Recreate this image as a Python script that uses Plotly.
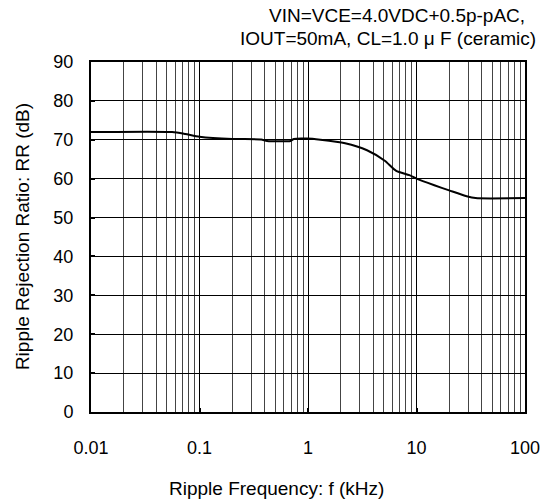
import plotly.graph_objects as go

freq_khz = [0.01, 0.056, 0.074, 0.1, 0.2, 0.37, 0.42, 0.69, 0.74, 0.98, 1.3, 2.2, 3.5, 5.1, 6.5, 8.6, 10, 14.6, 20, 29, 35, 100]
rr_db = [72, 72, 71.5, 70.8, 70.2, 70.1, 69.7, 69.7, 70.2, 70.3, 70.0, 69.1, 67.3, 64.6, 62.0, 60.9, 60.0, 58.3, 57.0, 55.5, 55.0, 55.0]

x_tickvals = [0.01, 0.1, 1, 10, 100]
x_ticktext = ["0.01", "0.1", "1", "10", "100"]
y_tickvals = [0, 10, 20, 30, 40, 50, 60, 70, 80, 90]

title_lines = ["VIN=VCE=4.0VDC+0.5p-pAC,", "IOUT=50mA, CL=1.0 μ F (ceramic)"]
x_title = "Ripple Frequency: f (kHz)"
y_title = "Ripple Rejection Ratio: RR (dB)"

FONT = "Liberation Sans, Arial, sans-serif"
W, H = 552, 504
# plot area in page pixels: x 91..532, y 62..412
L, T = 91, 62
R, B = W - 532, H - 412
PW, PH = W - L - R, H - T - B


def px_x(x):
    return (x - L) / PW


def px_y(y):
    return (H - B - y) / PH


fig = go.Figure()
fig.add_trace(go.Scatter(x=freq_khz, y=rr_db, mode="lines",
                         line=dict(color="black", width=2, shape="spline", smoothing=0.6),
                         showlegend=False, hoverinfo="skip"))

ann_font = dict(family=FONT, size=19, color="black")
fig.update_layout(
    width=W, height=H,
    margin=dict(l=L, r=R, t=T, b=B),
    paper_bgcolor="white", plot_bgcolor="white",
    font=dict(family=FONT, color="black", size=18),
    annotations=[
        dict(text=title_lines[0], xref="paper", yref="paper",
             x=px_x(534), y=px_y(16), xanchor="right", yanchor="middle",
             showarrow=False, font=ann_font),
        dict(text=title_lines[1], xref="paper", yref="paper",
             x=px_x(545), y=px_y(38), xanchor="right", yanchor="middle",
             showarrow=False, font=ann_font),
        dict(text=x_title, xref="paper", yref="paper",
             x=px_x(279), y=px_y(488), xanchor="center", yanchor="middle",
             showarrow=False, font=ann_font),
        dict(text=y_title, xref="paper", yref="paper", textangle=-90,
             x=px_x(21), y=px_y(237), xanchor="center", yanchor="middle",
             showarrow=False, font=ann_font),
    ],
)

fig.update_xaxes(
    type="log", range=[-2, 2],
    tickmode="array", tickvals=x_tickvals, ticktext=x_ticktext,
    tickfont=dict(size=18), ticklabelstandoff=18, ticklabeloverflow="allow",
    ticks="inside", ticklen=4, tickwidth=2, tickcolor="black",
    showgrid=True, gridcolor="black", gridwidth=1,
    minor=dict(dtick="D1", showgrid=True, gridcolor="#444", gridwidth=1, ticks=""),
    showline=True, linecolor="black", linewidth=2, mirror=True,
    zeroline=False,
)
fig.update_yaxes(
    range=[0, 90], tickmode="array", tickvals=y_tickvals,
    tickfont=dict(size=18), ticklabelstandoff=12,
    ticks="inside", ticklen=4, tickwidth=2, tickcolor="black",
    showgrid=True, gridcolor="black", gridwidth=1,
    showline=True, linecolor="black", linewidth=2, mirror=True,
    zeroline=False,
)

fig.write_html("out.html", config={"displayModeBar": False},
               post_script="document.body.style.margin='0';document.body.style.overflow='hidden';")
